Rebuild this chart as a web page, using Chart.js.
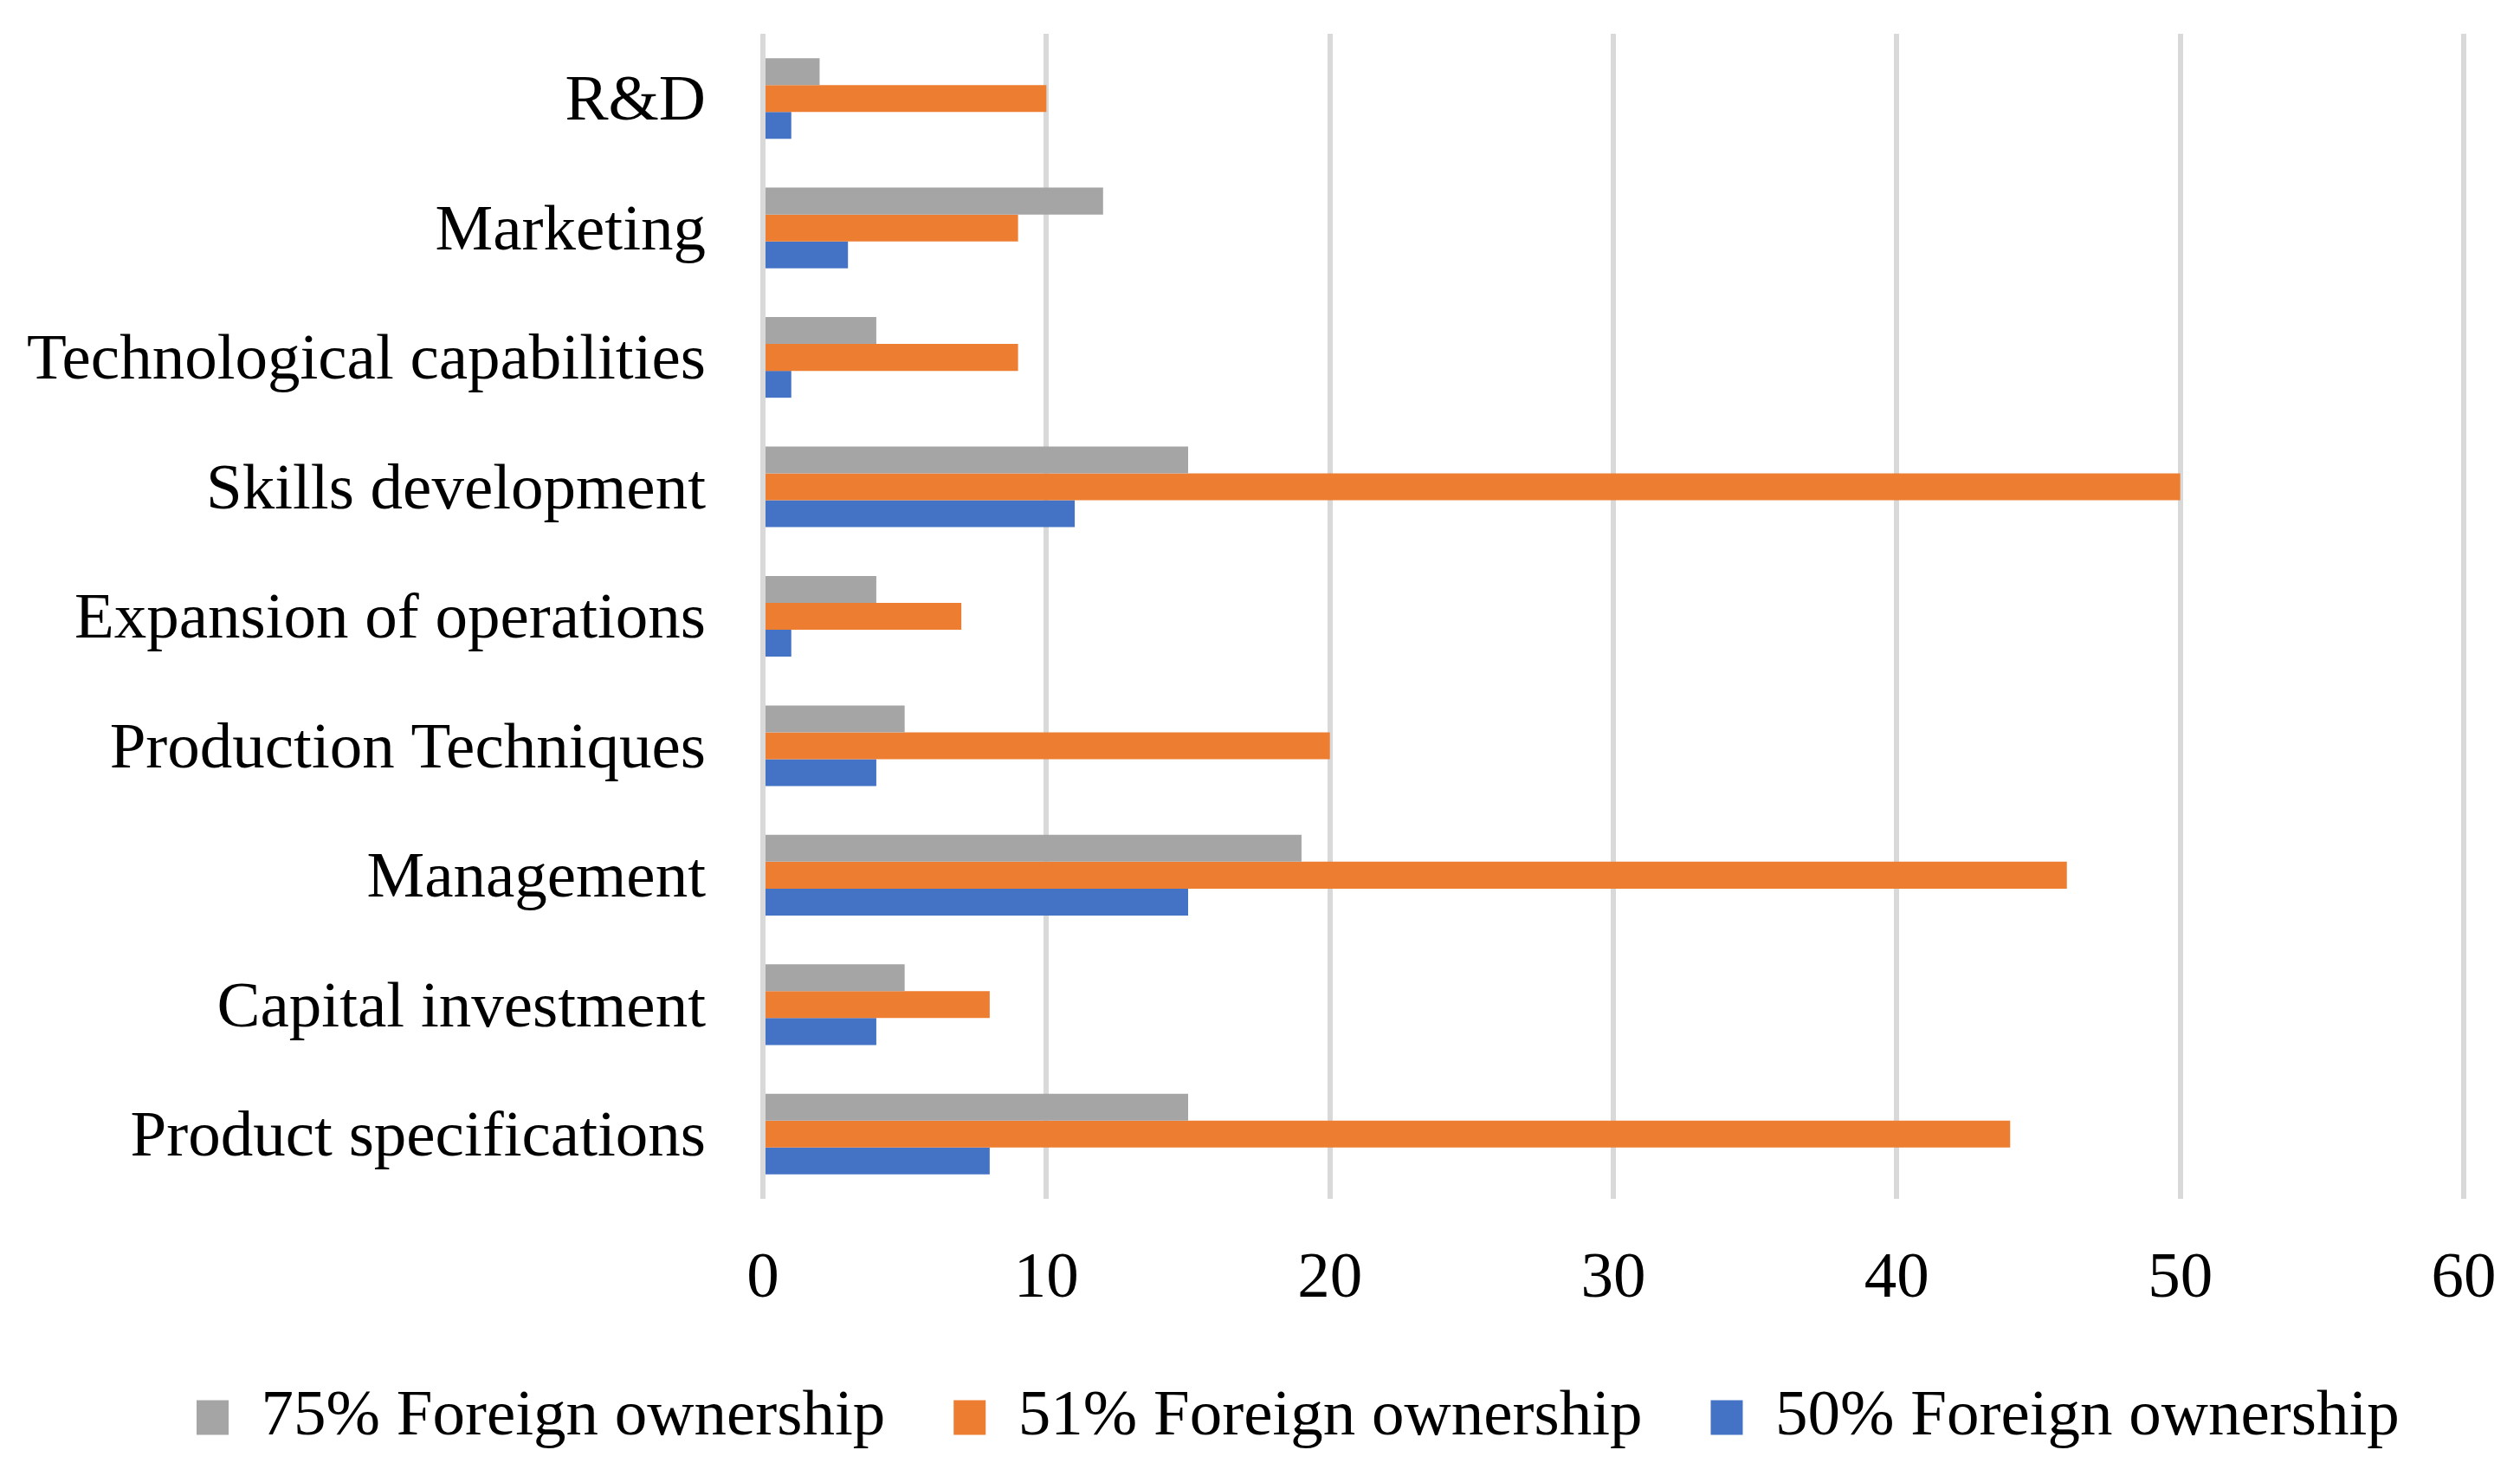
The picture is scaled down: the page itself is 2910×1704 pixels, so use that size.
<!DOCTYPE html>
<html>
<head>
<meta charset="utf-8">
<script src="https://cdn.jsdelivr.net/npm/chart.js@4"></script>
<style>
html,body{margin:0;padding:0;background:#fff;}
#wrap{width:2910px;height:1704px;position:relative;}
</style>
</head>
<body>
<div id="wrap"><canvas id="c"></canvas></div>
<script>
const categories = ["R&D","Marketing","Technological capabilities","Skills development","Expansion of operations","Production Techniques","Management","Capital investment","Product specifications"];
const seriesNames = ["75% Foreign ownership","51% Foreign ownership","50% Foreign ownership"];
const own75 = [2,12,4,15,4,5,19,5,15];
const own51 = [10,9,9,50,7,20,46,8,44];
const own50 = [1,3,1,11,1,4,15,4,8];
const xTicks = [0,10,20,30,40,50,60];
const colors = ["#A5A5A5","#ED7D31","#4472C4"];

const FONT = "'Liberation Serif','Times New Roman',serif";
const FS = 75;
const LEGEND_PAD = 79;
const LEGEND_START = 227;

const legendFix = {
  id: 'legendFix',
  beforeLayout(chart) {
    const lg = chart.legend;
    if (lg && !lg._patched) {
      const orig = lg.fit;
      lg.fit = function() { orig.call(this); this.height = 158; };
      lg._patched = true;
    }
  },
  afterLayout(chart) {
    const lg = chart.legend;
    if (lg && lg.lineWidths) {
      const start = (lg.left + LEGEND_PAD + lg.right - lg.lineWidths[0]) / 2;
      const dx = LEGEND_START - start;
      lg.left += dx; lg.right += dx;
    }
  }
};

new Chart(document.getElementById('c'), {
  type: 'bar',
  data: {
    labels: categories,
    datasets: [own75, own51, own50].map((d,i)=>({
      label: seriesNames[i],
      data: d,
      backgroundColor: colors[i],
      borderWidth: 0,
      categoryPercentage: 0.623,
      barPercentage: 1.0
    }))
  },
  plugins: [legendFix],
  options: {
    indexAxis: 'y',
    responsive: true,
    maintainAspectRatio: false,
    devicePixelRatio: 1,
    animation: false,
    layout: { padding: { left: 0, right: 65, top: 39, bottom: 26 } },
    plugins: {
      tooltip: { enabled: false },
      legend: {
        position: 'bottom',
        labels: {
          font: { family: FONT, size: FS },
          color: '#000',
          boxWidth: 37,
          boxHeight: 40,
          padding: LEGEND_PAD
        }
      }
    },
    scales: {
      x: {
        min: 0, max: 60,
        afterBuildTicks: (s) => { s.ticks = xTicks.map(v => ({ value: v })); },
        afterFit: (s) => { s.height = 136; s.paddingLeft = 0; s.paddingRight = 0; },
        grid: { color: '#D9D9D9', lineWidth: 6, drawTicks: false },
        border: { display: false },
        ticks: { font: { family: FONT, size: FS }, color: '#000', padding: 48 }
      },
      y: {
        afterFit: (s) => { s.width = 881; s.paddingTop = 0; s.paddingBottom = 0; },
        grid: { display: false },
        border: { display: false },
        ticks: { font: { family: FONT, size: FS }, color: '#000', padding: 58, labelOffset: 5 }
      }
    }
  }
});
</script>
</body>
</html>
